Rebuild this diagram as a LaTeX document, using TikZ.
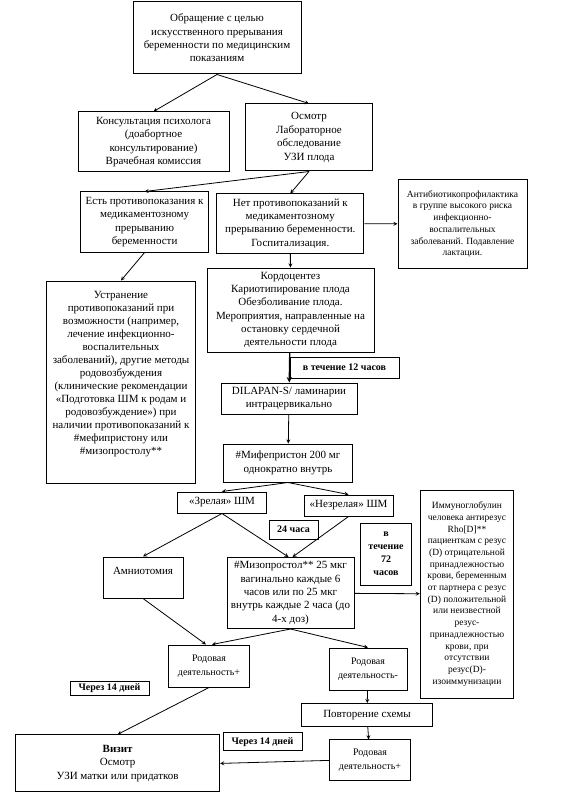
\documentclass[tikz,border=0pt]{standalone}
\usepackage{fontspec}
\setmainfont{Liberation Serif}

\begin{document}
\begin{tikzpicture}[
        x=1pt, y=-1pt,
        box/.style={rectangle, draw, line width=1pt, align=center, inner sep=1pt, font=\fontsize{11}{13.4}\selectfont},
        smallbox/.style={box, font=\fontsize{9.5}{11.7}\selectfont},
        labourbox/.style={box, font=\fontsize{10}{14.5}\selectfont},
        timebox/.style={box, font=\fontsize{10}{13}\selectfont\bfseries},
        arrow/.style={->, >=stealth, line width=0.8pt}
    ]
\useasboundingbox (0,0) rectangle (568,794);

% Row 1
        \node[box, minimum width=168, minimum height=72] (appeal) at (217,38) {Обращение с целью\\искусственного прерывания\\беременности по медицинским\\показаниям};

% Row 2
        \node[box, minimum width=151, minimum height=60] (psych) at (153.5,142) {Консультация психолога\\(доабортное\\консультирование)\\Врачебная комиссия};
        \node[box, minimum width=127, minimum height=67] (exam) at (309,137.5) {Осмотр\\Лабораторное\\обследование\\УЗИ плода};

% Row 3
        \node[box, minimum width=128, minimum height=60] (contra) at (144.6,222) {Есть противопоказания к\\медикаментозному\\прерыванию\\беременности};
        \node[box, minimum width=147, minimum height=59] (nocontra) at (290.3,223.5) {Нет противопоказаний к\\медикаментозному\\прерыванию беременности.\\Госпитализация.};
        \node[smallbox, minimum width=129, minimum height=88] (antibio) at (462.5,224) {Антибиотикопрофилактика\\в группе высокого риска\\инфекционно-\\воспалительных\\заболеваний. Подавление\\лактации.};

% Row 4
        \node[box, minimum width=148.5, minimum height=202, font=\fontsize{11}{13}\selectfont] (remove) at (121,382) {Устранение\\противопоказаний при\\возможности (например,\\лечение инфекционно-\\воспалительных\\заболеваний), другие методы\\родовозбуждения\\(клинические рекомендации\\«Подготовка ШМ к родам и\\родовозбуждение») при\\наличии противопоказаний к\\\#мефипристону или\\\#мизопростолу**\\[6pt]\mbox{}};
        \node[box, minimum width=167, minimum height=84, font=\fontsize{11}{13.2}\selectfont] (cordo) at (290.5,310) {Кордоцентез\\Кариотипирование плода\\Обезболивание плода.\\Мероприятия, направленные на\\остановку сердечной\\деятельности плода};
        \node[timebox, minimum width=109, minimum height=21] (within12) at (344.5,367.5) {в течение 12 часов};
        \node[box, minimum width=136, minimum height=31] (dilapan) at (289,398.5) {DILAPAN-S/ ламинарии\\интрацервикально};
        \node[box, minimum width=128.5, minimum height=38] (mife) at (288,463) {\#Мифепристон 200 мг\\однократно внутрь};

% Row 5
        \node[box, minimum width=89, minimum height=21] (ripe) at (222,502.5) {«Зрелая» ШМ};
        \node[box, minimum width=89, minimum height=21] (unripe) at (348.5,505.5) {«Незрелая» ШМ};
        \node[timebox, minimum width=49, minimum height=19] (h24) at (293.5,529.5) {24 часа};
        \node[timebox, minimum width=51.5, minimum height=62] (within72) at (386,554) {в\\течение\\72\\часов};
        \node[smallbox, minimum width=93.5, minimum height=208] (immuno) at (467,594) {Иммуноглобулин\\человека антирезус\\Rho[D]**\\пациенткам с резус\\(D) отрицательной\\принадлежностью\\крови, беременным\\от партнера с резус\\(D) положительной\\или неизвестной\\резус-\\принадлежностью\\крови, при\\отсутствии\\резус(D)-\\изоиммунизации};
        \node[box, minimum width=80, minimum height=41] (amnio) at (143,577.5) {Амниотомия\\\mbox{}};
        \node[box, minimum width=127, minimum height=71] (miso) at (290.5,593) {\#Мизопростол** 25 мкг\\вагинально каждые 6\\часов или по 25 мкг\\внутрь каждые 2 часа (до\\4-х доз)};

% Row 6
        \node[labourbox, minimum width=81, minimum height=42] (labourA) at (209,666) {Родовая\\деятельность+};
        \node[labourbox, minimum width=78, minimum height=42] (labourNeg) at (368,669) {Родовая\\деятельность-};
        \node[timebox, minimum width=79, minimum height=14] (after14a) at (109.5,688.5) {Через 14 дней};
        \node[box, minimum width=131.5, minimum height=23] (repeat) at (367,715) {Повторение схемы};

% Row 7
        \node[box, minimum width=204, minimum height=57] (visit) at (117.6,763.4) {\textbf{Визит}\\Осмотр\\УЗИ матки или придатков};
        \node[timebox, minimum width=79, minimum height=18] (after14b) at (262.5,741.7) {Через 14 дней};
        \node[labourbox, minimum width=81, minimum height=41] (labourB) at (370,760.4) {Родовая\\деятельность+};

% Arrows
        \draw[arrow] (appeal.south) -- (psych.north);
        \draw[arrow] (appeal.south) -- (exam.north);
        \draw[arrow] (exam.south) -- (contra.north);
        \draw[arrow] (exam.south) -- (nocontra.north);
        \draw[arrow] (nocontra) -- (antibio);
        \draw[arrow] (contra.south) -- (remove.north);
        \draw[arrow] (nocontra) -- (cordo);
        \draw[arrow, line width=1.4pt] (cordo) -- (dilapan);
        \draw[arrow] (dilapan) -- (mife);
        \draw[arrow] (mife.south) -- (ripe.north);
        \draw[arrow] (mife.south) -- (unripe.north);
        \draw[arrow] (ripe.south) -- (amnio.north);
        \draw[arrow] (ripe.south) -- ([xshift=-2]miso.north);
        \draw[arrow] (unripe.south) -- ([xshift=2]miso.north);
        \draw[arrow] (miso) -- (immuno);
        \draw[arrow] (amnio.south) -- ([xshift=-3]labourA.north);
        \draw[arrow] (miso.south) -- ([xshift=3]labourA.north);
        \draw[arrow] (miso.south) -- (labourNeg.north);
        \draw[arrow] (labourNeg) -- (repeat);
        \draw[arrow] (repeat) -- (labourB);
        \draw[arrow] (labourA.south) -- (visit.north);
        \draw[arrow] (labourB.west) -- (visit.east);
    \end{tikzpicture}
\end{document}
